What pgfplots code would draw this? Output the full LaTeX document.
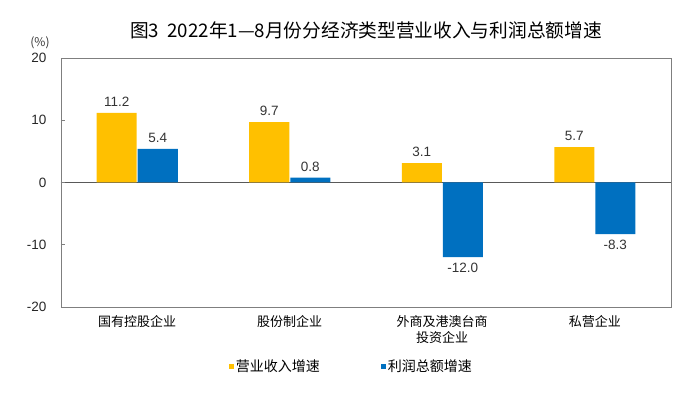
\documentclass[border=0pt]{standalone}
\usepackage{pgfplots}
\pgfplotsset{compat=1.18}
\usepackage{fontspec}
\setmainfont{Liberation Sans}
\newfontfamily\cjk{Noto Sans CJK SC}
\definecolor{cyel}{HTML}{FFC000}
\definecolor{cblu}{HTML}{0070C0}
\definecolor{cax}{HTML}{7F7F7F}
\begin{document}
\begin{tikzpicture}[x=1pt,y=1pt]
\useasboundingbox (0,0) rectangle (697,396);
\node[font=\cjk\fontsize{18.7}{22}\selectfont] at (366,366) {图3\ \ 2022年1—8月份分经济类型营业收入与利润总额增速};
\begin{axis}[
  at={(61pt,89pt)}, anchor=south west,
  scale only axis, width=610pt, height=249pt,
  /pgf/number format/assume math mode=true,
  ybar=1pt, bar width=40pt,
  xmin=-0.5, xmax=3.5, ymin=-20, ymax=20,
  xtick={0,1,2,3},
  xticklabels={国有控股企业,股份制企业,外商及港澳台商\\投资企业,私营企业},
  xticklabel style={font=\cjk\fontsize{13}{16}\selectfont, align=center, anchor=north, yshift=-5pt},
  major x tick style={draw=none},
  ytick={-20,-10,0,10,20},
  yticklabels={-20,-10,0,10,20},
  yticklabel style={font=\fontsize{13.5}{15}\selectfont, color=black!85, anchor=east, xshift=-11pt},
  tick align=inside, major tick length=4pt,
  ytick pos=left,
  axis line style={cax, line width=0.8pt},
  y tick style={cax, line width=0.8pt},
  extra y ticks={0}, extra y tick labels={},
  extra y tick style={grid=major, major grid style={black!65, line width=1pt}},
  point meta=explicit symbolic,
  visualization depends on={y \as \rawy},
  nodes near coords,
  every node near coord/.append style={font=\fontsize{13.5}{15}\selectfont, color=black!80, inner sep=6pt,
    /utils/exec={\pgfmathparse{\rawy<0}\ifnum\pgfmathresult=1 \gdef\myanc{north}\else\gdef\myanc{south}\fi},
    anchor=\myanc},
  legend style={at={(0.476,-0.237)}, anchor=center, draw=none, legend columns=2,
    font=\cjk\fontsize{14}{16}\selectfont, /tikz/every even column/.append style={column sep=59pt}},
  legend image code/.code={\fill[#1] (0pt,-2.5pt) rectangle (5pt,2.5pt);},
  clip=false,
]
\addplot[fill=cyel, draw=none] coordinates {(0,11.2) [11.2] (1,9.7) [9.7] (2,3.1) [3.1] (3,5.7) [5.7]};
\addplot[fill=cblu, draw=none] coordinates {(0,5.4) [5.4] (1,0.8) [0.8] (2,-12.0) [-12.0] (3,-8.3) [-8.3]};
\legend{营业收入增速,利润总额增速}
\node[font=\cjk\fontsize{12}{14}\selectfont, color=black!80] at (rel axis cs:0,1) [xshift=-21pt, yshift=15pt] {(\%)};
\end{axis}
\end{tikzpicture}
\end{document}
